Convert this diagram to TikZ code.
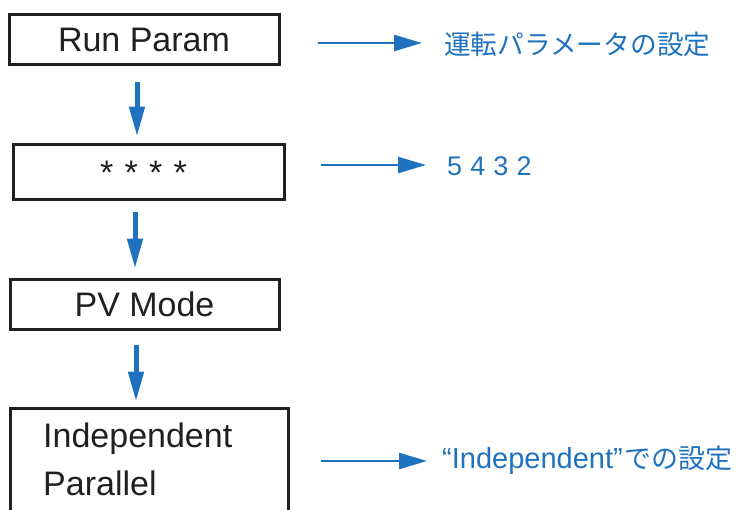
\documentclass[tikz,border=0pt]{standalone}
\usepackage{fontspec}
\setmainfont{Liberation Sans}
\newfontfamily\cjk{Noto Sans CJK JP}
\usetikzlibrary{arrows.meta,calc}
\definecolor{myblue}{RGB}{31,115,190}
\definecolor{ink}{RGB}{35,31,32}
\tikzset{
  stepbox/.style={draw=ink, line width=3pt, rectangle, inner sep=0pt, text=ink,
    font=\fontsize{34}{40}\selectfont, text height=24.5pt, text depth=0pt},
  downarr/.style={draw=myblue, line width=5pt, -{Triangle[length=30pt,width=15pt]}},
  rarr/.style={draw=myblue, line width=2.5pt, -{Triangle[length=28pt,width=16pt]}},
  lab/.style={anchor=west, inner sep=0pt, text=myblue},
}
\begin{document}
\begin{tikzpicture}[x=1pt,y=-1pt]
\useasboundingbox (0,0) rectangle (744,509);
\clip (0,0) rectangle (744,509);
% boxes
\node[stepbox, minimum width=270pt, minimum height=50pt] (b1) at (144,39) {Run Param};
\node[stepbox, minimum width=271pt, minimum height=55pt, text height=26pt] (b2) at (148.5,171.5) {\hspace*{-10pt}*\hspace{0.33em}*\hspace{0.33em}*\hspace{0.33em}*};
\node[stepbox, minimum width=269pt, minimum height=50pt] (b3) at (144.5,304) {PV Mode};
\node[stepbox, minimum width=278pt, minimum height=130pt] (b4) at (149,473) {};
\node[anchor=base west, inner sep=0pt, text=ink, align=left,
  font=\fontsize{34}{47.7}\selectfont] (t4) at (43,495) {Independent\\Parallel};
% down arrows
\draw[downarr] ([xshift=-7pt,yshift=-16pt]b1.south) -- ([xshift=-7pt,yshift=6pt]b1.south |- b2.north);
\draw[downarr] ([xshift=-13.5pt,yshift=-11pt]b2.south) -- ([xshift=-13.5pt,yshift=9pt]b2.south |- b3.north);
\draw[downarr] ([xshift=-8.5pt,yshift=-14pt]b3.south) -- ([xshift=-8.5pt,yshift=5pt]b3.south |- b4.north);
% labels
\node[lab, font=\fontsize{26.7}{30}\selectfont\cjk] (l1) at (444,44) {運転パラメータの設定};
\node[lab, font=\fontsize{27}{30}\selectfont] (l2) at (447,166) {5\hspace{0.3em}4\hspace{0.3em}3\hspace{0.3em}2};
\node[lab, font=\fontsize{29}{32}\selectfont] (l3) at (442,460) {“Independent”\hspace{2pt}{\cjk\fontsize{27}{30}\selectfont での設定}};
% right arrows
\coordinate (s1) at (318,43);
\coordinate (s2) at (321,165);
\coordinate (s3) at (321,461);
\draw[rarr] (s1) -- ([xshift=-22pt]s1 -| l1.west);
\draw[rarr] (s2) -- ([xshift=-21pt]s2 -| l2.west);
\draw[rarr] (s3) -- ([xshift=-15pt]s3 -| l3.west);
\end{tikzpicture}
\end{document}
